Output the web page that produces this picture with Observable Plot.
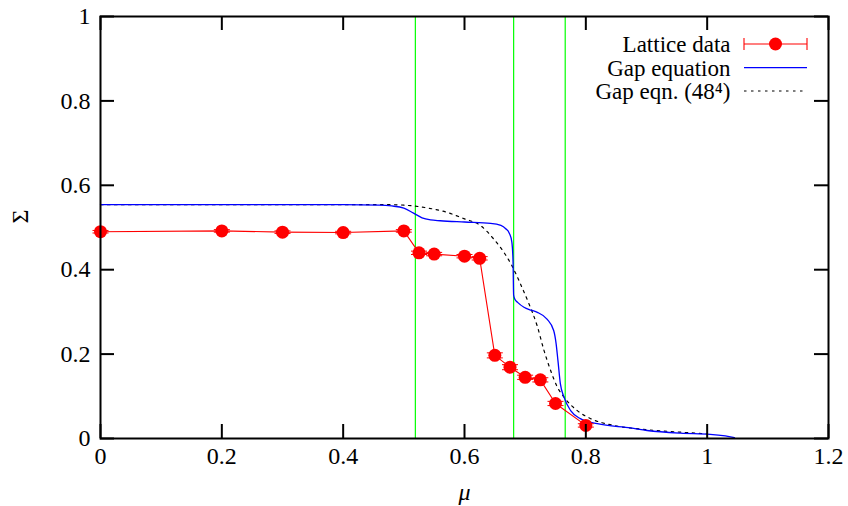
<!DOCTYPE html>
<html>
<head>
<meta charset="utf-8">
<script src="https://cdn.jsdelivr.net/npm/d3@7"></script>
<script src="https://cdn.jsdelivr.net/npm/@observablehq/plot@0.6"></script>
<style>
  html, body { margin: 0; padding: 0; background: #fff; font-family: 'Liberation Serif'; }
  #chart svg { display: block; }
</style>
</head>
<body>
<div id="chart"></div>
<script>
// ---- data ----
const latticeMu    = [0, 0.2, 0.3, 0.4, 0.5, 0.525, 0.55, 0.6, 0.625, 0.65, 0.675, 0.7, 0.725, 0.75, 0.8];
const latticeSigma = [0.490, 0.492, 0.489, 0.488, 0.492, 0.440, 0.437, 0.432, 0.427, 0.197, 0.169, 0.145, 0.139, 0.083, 0.031];
const latticeErr   = [0.003, 0.003, 0.003, 0.003, 0.003, 0.004, 0.004, 0.004, 0.004, 0.006, 0.006, 0.005, 0.005, 0.005, 0.004];

const gapMu    = [0, 0.1, 0.2, 0.3, 0.4, 0.46, 0.48, 0.50, 0.516, 0.53, 0.544, 0.56, 0.60, 0.643, 0.66, 0.668, 0.674, 0.678, 0.680, 0.681, 0.683, 0.688, 0.698, 0.71, 0.72, 0.736, 0.747, 0.751, 0.754, 0.758, 0.764, 0.775, 0.791, 0.819, 0.874, 0.901, 0.956, 1.005, 1.03, 1.045];
const gapSigma = [0.554, 0.554, 0.554, 0.554, 0.554, 0.553, 0.551, 0.546, 0.534, 0.523, 0.518, 0.516, 0.513, 0.510, 0.505, 0.497, 0.486, 0.466, 0.420, 0.340, 0.330, 0.322, 0.311, 0.304, 0.299, 0.283, 0.256, 0.225, 0.185, 0.130, 0.098, 0.066, 0.047, 0.035, 0.025, 0.019, 0.0126, 0.010, 0.006, 0.002];

const gap48Mu    = [0, 0.2, 0.4, 0.48, 0.50, 0.516, 0.54, 0.571, 0.599, 0.626, 0.648, 0.665, 0.678, 0.692, 0.706, 0.72, 0.731, 0.742, 0.753, 0.764, 0.786, 0.808, 0.846, 0.90, 0.956, 1.0];
const gap48Sigma = [0.554, 0.554, 0.554, 0.554, 0.553, 0.551, 0.546, 0.536, 0.521, 0.505, 0.473, 0.441, 0.410, 0.367, 0.320, 0.266, 0.209, 0.161, 0.122, 0.098, 0.066, 0.047, 0.031, 0.021, 0.015, 0.011];

const transitionMu = [0.519, 0.681, 0.766];

const xTicks = [0, 0.2, 0.4, 0.6, 0.8, 1, 1.2];
const yTicks = [0, 0.2, 0.4, 0.6, 0.8, 1];

const legendLabels = ["Lattice data", "Gap equation", "Gap eqn. (48\u2074)"];

// ---- tables ----
const lattice = latticeMu.map((m, i) => ({mu: m, s: latticeSigma[i], e: latticeErr[i]}));
const gap = gapMu.map((m, i) => ({mu: m, s: gapSigma[i]}));
const gap48 = gap48Mu.map((m, i) => ({mu: m, s: gap48Sigma[i]}));

const W = 848, H = 506, mL = 100, mR = 20, mT = 16, mB = 68;
const plotW = W - mL - mR, plotH = H - mT - mB, tickLen = 14;

const capSymbol = { draw(ctx, size) { ctx.moveTo(-8, 0); ctx.lineTo(8, 0); } };

const chart = Plot.plot({
  width: W, height: H,
  marginLeft: mL, marginRight: mR, marginTop: mT, marginBottom: mB,
  style: "font-family: 'Liberation Serif'; font-size: 24px;",
  x: { domain: [0, 1.2] },
  y: { domain: [0, 1] },
  marks: [
    Plot.ruleX(transitionMu, { x: d => d, stroke: "#00ff00", strokeWidth: 1.2 }),
    Plot.line(gap48, { x: "mu", y: "s", stroke: "#000", strokeWidth: 1.2, strokeDasharray: "2.5,4.5", curve: "monotone-x" }),
    Plot.line(gap, { x: "mu", y: "s", stroke: "#0000ff", strokeWidth: 1.3, curve: "monotone-x" }),
    Plot.line(lattice, { x: "mu", y: "s", stroke: "#ff0000", strokeWidth: 1.1 }),
    Plot.ruleX(lattice, { x: "mu", y1: d => d.s - d.e, y2: d => d.s + d.e, stroke: "#ff0000", strokeWidth: 1 }),
    Plot.dot(lattice, { x: "mu", y: d => d.s - d.e, symbol: capSymbol, stroke: "#ff0000", strokeWidth: 1 }),
    Plot.dot(lattice, { x: "mu", y: d => d.s + d.e, symbol: capSymbol, stroke: "#ff0000", strokeWidth: 1 }),
    Plot.dot(lattice, { x: "mu", y: "s", r: 6.5, fill: "#ff0000", stroke: "none" }),
    // inward ticks on all four sides
    Plot.tickX(xTicks, { x: d => d, insetTop: plotH - tickLen, stroke: "#000", strokeWidth: 2 }),
    Plot.tickX(xTicks, { x: d => d, insetBottom: plotH - tickLen, stroke: "#000", strokeWidth: 2 }),
    Plot.tickY(yTicks, { y: d => d, insetRight: plotW - tickLen, stroke: "#000", strokeWidth: 2 }),
    Plot.tickY(yTicks, { y: d => d, insetLeft: plotW - tickLen, stroke: "#000", strokeWidth: 2 }),
    Plot.axisX({ ticks: xTicks, tickSize: 0, tickPadding: 8, label: null, tickFormat: d => String(d) }),
    Plot.axisY({ ticks: yTicks, tickSize: 0, tickPadding: 10, label: null, tickFormat: d => String(d) }),
    Plot.frame({ stroke: "#000", strokeWidth: 2 }),
    Plot.text(["\u03BC"], { frameAnchor: "bottom", dy: 54, lineAnchor: "middle", fontStyle: "italic" }),
    Plot.text(["\u03A3"], { frameAnchor: "left", dx: -80, dy: -4, rotate: -90, lineAnchor: "middle" }),
    Plot.text([legendLabels[0]], { frameAnchor: "top-right", dx: -98, dy: 28, textAnchor: "end", lineAnchor: "middle", fontSize: 23 }),
    Plot.text([legendLabels[1]], { frameAnchor: "top-right", dx: -98, dy: 51.7, textAnchor: "end", lineAnchor: "middle", fontSize: 23 }),
    Plot.text([legendLabels[2]], { frameAnchor: "top-right", dx: -98, dy: 75, textAnchor: "end", lineAnchor: "middle", fontSize: 23 })
  ]
});

// legend samples
const svg = d3.select(chart);
const lx1 = W - mR - 84, lx2 = W - mR - 21, rowY = [mT + 28, mT + 51.7, mT + 75];
const lg = svg.append("g").attr("class", "legend-samples");
lg.append("line").attr("x1", lx1).attr("x2", lx2).attr("y1", rowY[0]).attr("y2", rowY[0]).attr("stroke", "#ff0000").attr("stroke-width", 1.1);
lg.append("line").attr("x1", lx1).attr("x2", lx1).attr("y1", rowY[0] - 6).attr("y2", rowY[0] + 6).attr("stroke", "#ff0000").attr("stroke-width", 1.1);
lg.append("line").attr("x1", lx2).attr("x2", lx2).attr("y1", rowY[0] - 6).attr("y2", rowY[0] + 6).attr("stroke", "#ff0000").attr("stroke-width", 1.1);
lg.append("circle").attr("cx", (lx1 + lx2) / 2).attr("cy", rowY[0]).attr("r", 6.5).attr("fill", "#ff0000");
lg.append("line").attr("x1", lx1).attr("x2", lx2).attr("y1", rowY[1]).attr("y2", rowY[1]).attr("stroke", "#0000ff").attr("stroke-width", 1.3);
lg.append("line").attr("x1", lx1).attr("x2", lx2).attr("y1", rowY[2]).attr("y2", rowY[2]).attr("stroke", "#000").attr("stroke-width", 1.2).attr("stroke-dasharray", "2.5,4.5");

document.getElementById("chart").appendChild(chart);
</script>
</body>
</html>
